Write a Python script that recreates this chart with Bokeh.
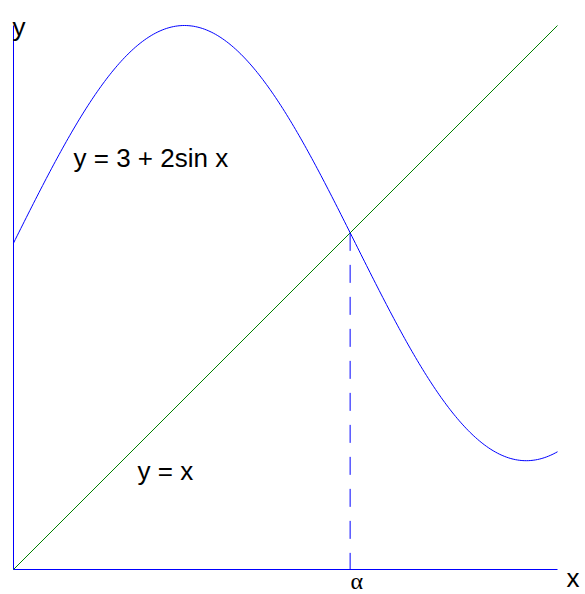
import numpy as np
from bokeh.plotting import figure
from bokeh.models import Range1d
from bokeh.core.properties import value
from bokeh.embed import file_html
from bokeh.resources import INLINE

# ---- data ----
x_curve = np.linspace(0.0, 5.0, 300)
y_curve = 3 + 2 * np.sin(x_curve)          # y = 3 + 2sin x
x_line = [0.0, 5.0]
y_line = [0.0, 5.0]                         # y = x
alpha = 3.094                               # intersection
x_axis_end = 5.0
y_axis_end = 5.0
labels = ["y = 3 + 2sin x", "y = x", "x", "y", "\u03b1"]

# ---- figure ----
W, H = 585, 594
scale = 108.8
ox, oy = 13, 569  # canvas pixel of origin
p = figure(width=W, height=H, output_backend="svg", toolbar_location=None,
           x_range=Range1d(-ox / scale, (W - ox) / scale),
           y_range=Range1d(-(H - oy) / scale, oy / scale),
           min_border=0, outline_line_color=None)
p.axis.visible = False
p.grid.visible = False
p.background_fill_color = "white"
p.border_fill_color = "white"

# axes
p.line([0, x_axis_end], [0, 0], line_color="#0000ff", line_width=1)
p.line([0, 0], [0, y_axis_end], line_color="#0000ff", line_width=1)

# curves
p.line(x_curve, y_curve, line_color="#0000ff", line_width=1)
p.line(x_line, y_line, line_color="#008000", line_width=1)

# dashed alpha line
p.line([alpha, alpha], [alpha, 0], line_color="#0000ff", line_width=1, line_dash="18 14")

fs = "26px"
def d(cx, cy):
    return (cx - ox) / scale, (oy - cy) / scale

txt_pos = [d(73, 157), d(137, 470), d(566, 577), d(12, 26)]
for t, (tx, ty) in zip(labels[:4], txt_pos):
    p.text(x=[tx], y=[ty], text=[t], text_font=value("Liberation Sans"),
           text_font_size=fs, text_color="black", text_baseline="alphabetic",
           text_align="left")

ax_, ay_ = d(350, 580)
p.text(x=[ax_], y=[ay_], text=[labels[4]], text_font=value("Liberation Serif"),
       text_font_size="24px", text_color="black", text_baseline="middle",
       text_align="left")

open("out.html", "w").write(file_html(p, INLINE))
